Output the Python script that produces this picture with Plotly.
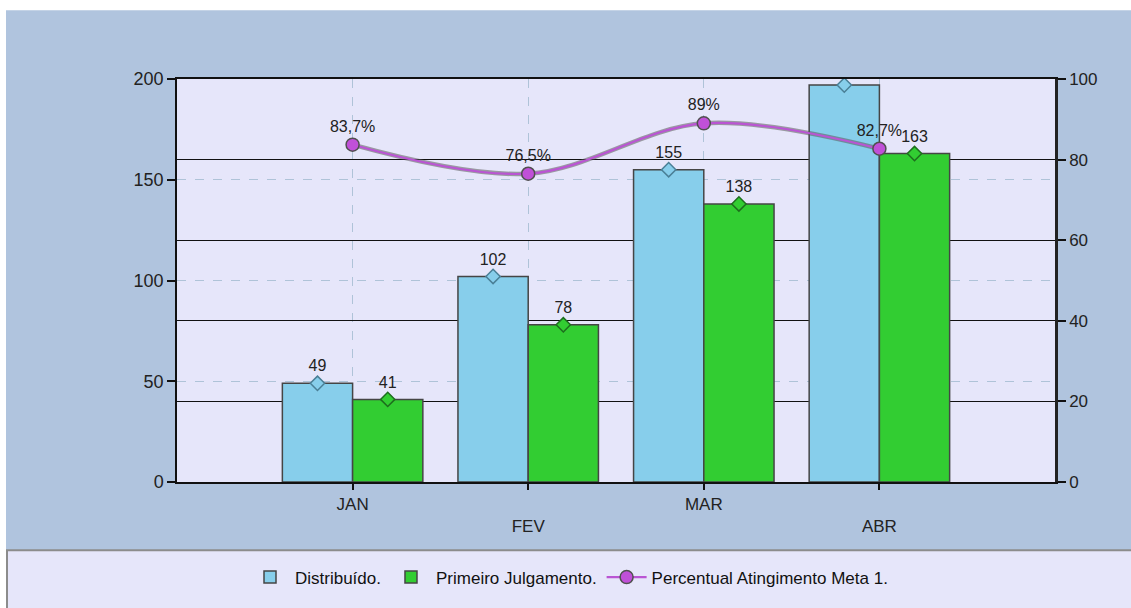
import plotly.graph_objects as go

# ---- data ----
categories = ["JAN", "FEV", "MAR", "ABR"]
tick_labels = ["JAN", "<br>FEV", "MAR", "<br>ABR"]
distribuido = [49, 102, 155, 197]
primeiro_julgamento = [41, 78, 138, 163]
percentual = [83.7, 76.5, 89, 82.7]

# ---- style ----
BLUE = "#87CEEB"
GREEN = "#32CD32"
PURPLE = "#BA55D3"
OUTER = "#B0C4DE"
PLOTBG = "#E6E6FA"
BAR_W = 0.4
FONT = "Liberation Sans"

W, H = 1131, 608
L, R, T, B = 177, 76, 79, 124
PW, PH = W - L - R, H - T - B


def px_x(px):
    return (px - L) / PW


def px_y(py):
    return (H - B - py) / PH


pos = list(range(1, len(categories) + 1))
pct_text = [(f"{v:g}".replace(".", ",") + "%") for v in percentual]

fig = go.Figure()

fig.add_trace(go.Bar(
    x=pos, y=distribuido, name="Distribuído.", marker=dict(color=BLUE, line=dict(color="#454545", width=1.5)),
    width=BAR_W, offset=-BAR_W, hoverinfo="skip"))
fig.add_trace(go.Bar(
    x=pos, y=primeiro_julgamento, name="Primeiro Julgamento.", marker=dict(color=GREEN, line=dict(color="#454545", width=1.5)),
    width=BAR_W, offset=0, hoverinfo="skip"))

fig.add_trace(go.Scatter(
    x=[p - BAR_W / 2 for p in pos], y=distribuido, mode="markers+text",
    text=[str(v) for v in distribuido], textposition="top center",
    textfont=dict(family=FONT, size=16, color="#222222"),
    marker=dict(symbol="diamond", size=11, color=BLUE, line=dict(color="#4A7F96", width=1.5)),
    showlegend=False, hoverinfo="skip"))
fig.add_trace(go.Scatter(
    x=[p + BAR_W / 2 for p in pos], y=primeiro_julgamento, mode="markers+text",
    text=[str(v) for v in primeiro_julgamento], textposition="top center",
    textfont=dict(family=FONT, size=16, color="#222222"),
    marker=dict(symbol="diamond", size=11, color=GREEN, line=dict(color="#1E6E1E", width=1.5)),
    showlegend=False, hoverinfo="skip"))

# soft shadow under the percent line
fig.add_trace(go.Scatter(
    x=pos, y=percentual, yaxis="y2", mode="lines",
    line=dict(color="rgba(90,90,90,0.55)", width=4.5, shape="spline"),
    showlegend=False, hoverinfo="skip"))
fig.add_trace(go.Scatter(
    x=pos, y=percentual, yaxis="y2", mode="lines+markers+text", name="Percentual Atingimento Meta 1.",
    line=dict(color=PURPLE, width=2.2, shape="spline"),
    marker=dict(symbol="circle", size=13, color="#C050D8", line=dict(color="#505050", width=1.5)),
    text=pct_text, textposition="top center",
    textfont=dict(family=FONT, size=16, color="#222222"),
    hoverinfo="skip"))

fig.update_layout(
    width=W, height=H,
    margin=dict(l=L, r=R, t=T, b=B, pad=0),
    paper_bgcolor=OUTER, plot_bgcolor=PLOTBG,
    font=dict(family=FONT, size=16, color="#222222"),
    barmode="overlay",
    showlegend=True,
    legend=dict(orientation="h", x=px_x(569), xanchor="center", y=px_y(580), yanchor="middle",
                bgcolor="rgba(0,0,0,0)", font=dict(family=FONT, size=17, color="#111111"),
                itemwidth=40, tracegroupgap=0),
    xaxis=dict(range=[0, 5], tickvals=pos, ticktext=tick_labels, showgrid=True,
               gridcolor="#AFC3D8", griddash="dash", gridwidth=1,
               ticks="outside", ticklen=6, tickcolor="#111111", tickwidth=1.5,
               showline=True, linecolor="#111111", linewidth=1.5, mirror=True,
               tickfont=dict(family=FONT, size=17, color="#222222"), zeroline=False),
    yaxis=dict(range=[0, 200], dtick=50, showgrid=True, gridcolor="#AFC3D8", griddash="dash",
               ticks="outside", ticklen=8, tickcolor="#111111", tickwidth=1.5,
               showline=True, linecolor="#111111", linewidth=1.5,
               tickfont=dict(family=FONT, size=18, color="#222222"), zeroline=False),
    yaxis2=dict(range=[0, 100], dtick=20, overlaying="y", side="right", showgrid=True,
                gridcolor="#111111", gridwidth=1.2,
                ticks="outside", ticklen=8, tickcolor="#111111", tickwidth=1.5,
                showline=True, linecolor="#222222", linewidth=2.5,
                tickfont=dict(family=FONT, size=17, color="#222222"), zeroline=False),
    shapes=[
        dict(type="rect", xref="paper", yref="paper", x0=px_x(-5), x1=px_x(W + 5), y0=px_y(10), y1=px_y(-5),
             fillcolor="white", line=dict(width=0), layer="below"),
        dict(type="rect", xref="paper", yref="paper", x0=px_x(-5), x1=px_x(6), y0=px_y(H + 5), y1=px_y(-5),
             fillcolor="white", line=dict(width=0), layer="below"),
        dict(type="rect", xref="paper", yref="paper", x0=px_x(7), x1=px_x(W + 10), y0=px_y(H + 10), y1=px_y(552.5),
             fillcolor="#E6E6FA", line=dict(color="#8C8C8C", width=2), layer="below"),
    ],
)

fig.write_html("out.html", config={"displayModeBar": False},
               post_script="document.body.style.margin='0';document.body.style.overflow='hidden';")
